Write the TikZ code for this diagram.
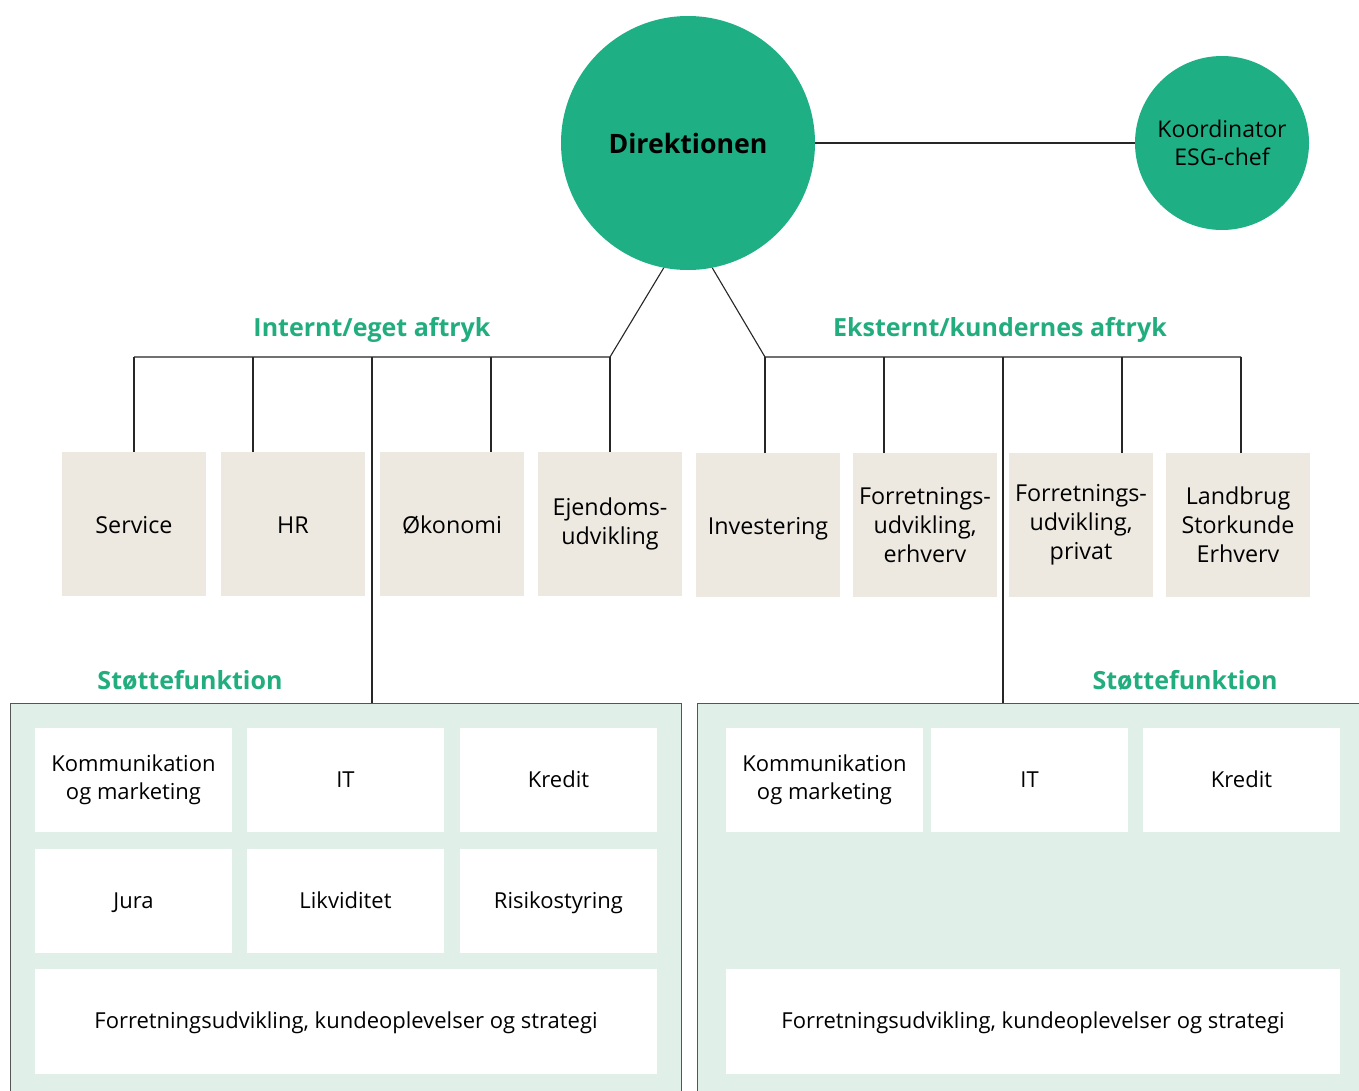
\documentclass[tikz,border=0pt]{standalone}
\usepackage{fontspec}
\setmainfont{Open Sans}
\usetikzlibrary{calc}
\definecolor{esggreen}{HTML}{1FAF84}
\definecolor{headgreen}{HTML}{22AD7F}
\definecolor{panelfill}{HTML}{E0EFE8}
\definecolor{beige}{HTML}{EDE9E1}
\definecolor{bordergray}{HTML}{555555}
\tikzset{
  conn/.style={draw=black!85, line width=1.1pt},
  bigcirc/.style={circle, fill=esggreen, inner sep=0pt},
  unitbox/.style={fill=beige, minimum width=144pt, minimum height=144pt, inner sep=0pt, align=center,
    font=\fontsize{23.3}{29}\selectfont},
  heading/.style={text=headgreen, font=\fontsize{25}{28}\selectfont\bfseries},
  panel/.style={fill=panelfill, draw=bordergray, line width=1.3pt, inner sep=0pt},
  cell/.style={fill=white, minimum width=197pt, minimum height=104pt, inner sep=0pt, align=center,
    font=\fontsize{22}{28}\selectfont},
  widecell/.style={fill=white, minimum height=105pt, inner sep=0pt, align=center,
    font=\fontsize{22}{28}\selectfont},
  oneline/.style={text height=20pt, text depth=1.5pt},
  cellline/.style={text height=17.5pt, text depth=3pt},
}
\begin{document}
\begin{tikzpicture}[x=1pt,y=-1pt]
\clip (0,0) rectangle (1359,1090);
\fill[white] (0,0) rectangle (1359,1090);

% circles
\node[bigcirc, minimum size=254pt, font=\fontsize{26.7}{30}\selectfont\bfseries] (dir) at (688,143) {Direktionen};
\node[bigcirc, minimum size=174pt, align=center, font=\fontsize{23}{28}\selectfont] (esg) at (1222,143) {Koordinator\\ESG-chef};
\draw[conn] (dir) -- (esg);

% headings
\node[heading] (hint) at (372,330) {Internt/eget aftryk};
\node[heading] (hext) at (1000,330) {Eksternt/kundernes aftryk};
\node[heading] (sl) at (190,680) {Støttefunktion};
\node[heading] (sr) at (1185,680) {Støttefunktion};

% unit boxes
\node[unitbox, oneline] (service) at (134,524) {Service};
\node[unitbox, oneline] (hr) at (293,524) {HR};
\node[unitbox, oneline] (oek) at (452,524) {Økonomi};
\node[unitbox] (ejd) at (610,524) {Ejendoms-\\udvikling};
\node[unitbox, oneline] (inv) at (768,525) {Investering};
\node[unitbox] (fue) at (925,525) {Forretnings-\\udvikling,\\erhverv};
\node[unitbox] (fup) at (1081,525) {Forretnings-\\udvikling,\\privat};
\node[unitbox] (lsk) at (1238,525) {Landbrug\\Storkunde\\Erhverv};

% panels
\node[panel, minimum width=671pt, minimum height=400pt, anchor=north west] (lpanel) at (10,703) {};
\node[panel, minimum width=680pt, minimum height=400pt, anchor=north west] (rpanel) at (697,703) {};

% left cells
\node[cell] (lkom) at (133.5,780) {Kommunikation\\og marketing};
\node[cell, cellline] (lit) at (345.5,780) {IT};
\node[cell, cellline] (lkre) at (558.5,780) {Kredit};
\node[cell, cellline] (ljur) at (133.5,901) {Jura};
\node[cell, cellline] (llik) at (345.5,901) {Likviditet};
\node[cell, cellline] (lris) at (558.5,901) {Risikostyring};
\node[widecell, cellline, minimum width=622pt] (lfor) at (346,1021) {Forretningsudvikling, kundeoplevelser og strategi};

% right cells
\node[cell] (rkom) at (824.5,780) {Kommunikation\\og marketing};
\node[cell, cellline] (rit) at (1029.5,780) {IT};
\node[cell, cellline] (rkre) at (1241.5,780) {Kredit};
\node[widecell, cellline, minimum width=614pt] (rfor) at (1033,1021) {Forretningsudvikling, kundeoplevelser og strategi};

% connector coordinates
\coordinate (jl) at (610,357);
\coordinate (jr) at (765,357);
\coordinate (tl1) at (134,357);
\coordinate (tl2) at (253,357);
\coordinate (tl3) at (372,357);
\coordinate (tl4) at (491,357);
\coordinate (tr2) at (884,357);
\coordinate (tr3) at (1003,357);
\coordinate (tr4) at (1122,357);
\coordinate (tr5) at (1241,357);

% connectors
\draw[conn] (dir.259) -- (jl) -- (tl1);
\draw[conn] (dir.281) -- (jr) -- (tr5);
\draw[conn] (tl1) -- (service.north);
\draw[conn] (tl2) -- (tl2 |- hr.north);
\draw[conn] (tl3) -- (tl3 |- lpanel.north);
\draw[conn] (tl4) -- (tl4 |- oek.north);
\draw[conn] (jl) -- (ejd.north);
\draw[conn] (jr) -- (jr |- inv.north);
\draw[conn] (tr2) -- (tr2 |- fue.north);
\draw[conn] (tr3) -- (tr3 |- rpanel.north);
\draw[conn] (tr4) -- (tr4 |- fup.north);
\draw[conn] (tr5) -- (tr5 |- lsk.north);
\end{tikzpicture}
\end{document}
